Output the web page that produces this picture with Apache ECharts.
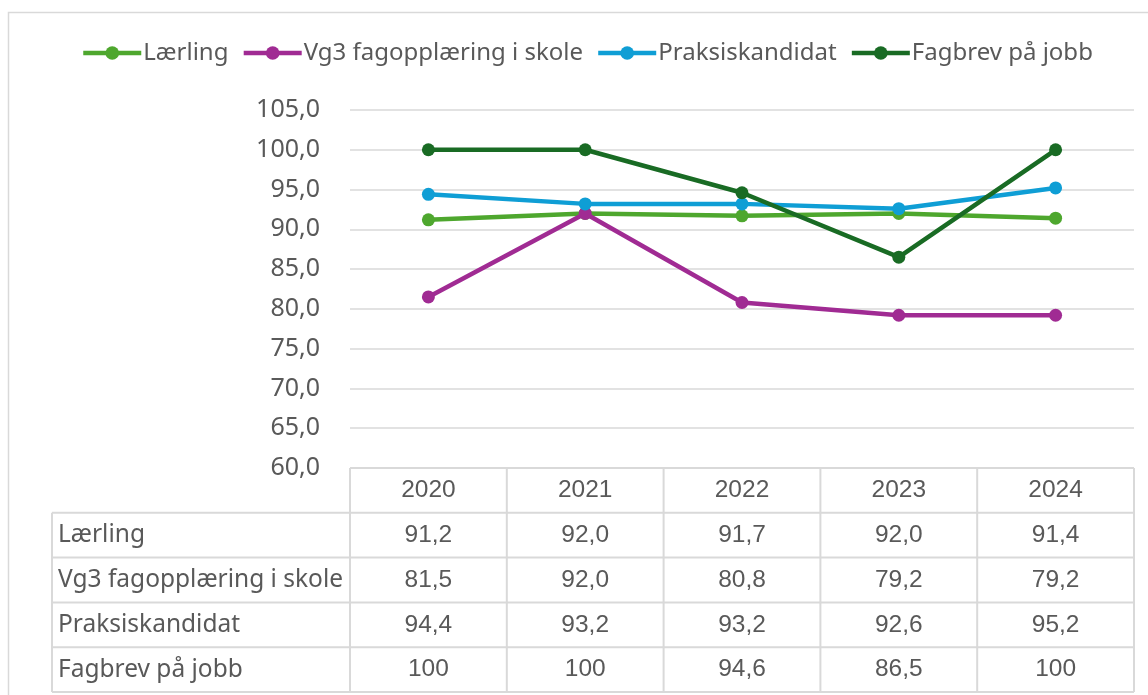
<!DOCTYPE html>
<html>
<head>
<meta charset="utf-8">
<script src="https://cdn.jsdelivr.net/npm/echarts@6/dist/echarts.min.js"></script>
<style>
html,body{margin:0;padding:0;background:#fff;}
#chart{width:1148px;height:695px;}
</style>
</head>
<body>
<div id="chart"></div>
<script>
const years = ['2020', '2021', '2022', '2023', '2024'];
const seriesNames = ['Lærling', 'Vg3 fagopplæring i skole', 'Praksiskandidat', 'Fagbrev på jobb'];
const laerling = [91.2, 92.0, 91.7, 92.0, 91.4];
const vg3 = [81.5, 92.0, 80.8, 79.2, 79.2];
const praksis = [94.4, 93.2, 93.2, 92.6, 95.2];
const fagbrev = [100, 100, 94.6, 86.5, 100];
const yMin = 60, yMax = 105, yStep = 5;
const colors = ['#4EA72E', '#A02B93', '#0F9ED5', '#196B24'];
const allData = [laerling, vg3, praksis, fagbrev];

const TEXT = '#595959';
const BORDER = '#d9d9d9';
const FONT = '"Noto Sans", sans-serif';
const NUMFONT = '"Liberation Sans", Arial, sans-serif';

function fmtAxis(v) { return v.toFixed(1).replace('.', ','); }
function fmtCell(v) { return v === 100 ? '100' : v.toFixed(1).replace('.', ','); }

const chart = echarts.init(document.getElementById('chart'), null, {renderer: 'canvas'});

const option = {
  animation: false,
  backgroundColor: '#fff',
  textStyle: {fontFamily: FONT},
  legend: {
    data: seriesNames,
    left: 76,
    top: 36,
    itemWidth: 58,
    itemHeight: 17,
    itemGap: 13,
    lineStyle: {width: 4.5},
    textStyle: {fontSize: 24, color: TEXT, fontFamily: FONT, padding: [0, 0, 0, -3]}
  },
  grid: {left: 350, right: 14, top: 110, bottom: 227, containLabel: false},
  xAxis: {
    type: 'category',
    data: years,
    boundaryGap: true,
    axisLine: {show: false},
    axisTick: {show: false},
    axisLabel: {show: false}
  },
  yAxis: {
    type: 'value',
    min: yMin, max: yMax, interval: yStep,
    axisLine: {show: false},
    axisTick: {show: false},
    axisLabel: {formatter: fmtAxis, fontSize: 25, color: TEXT, fontFamily: FONT, margin: 30},
    splitLine: {lineStyle: {color: BORDER, width: 1.5}}
  },
  series: seriesNames.map((name, i) => ({
    name: name,
    type: 'line',
    data: allData[i],
    symbol: 'circle',
    symbolSize: 13,
    color: colors[i],
    lineStyle: {width: 4.5, color: colors[i]},
    itemStyle: {color: colors[i]},
    z: 2 + i
  }))
};
chart.setOption(option);

// Build the data table beneath the plot
function buildTable() {
  const g = [];
  const top = chart.convertToPixel({yAxisIndex: 0}, yMin);
  const c0 = chart.convertToPixel({xAxisIndex: 0}, years[0]);
  const c1 = chart.convertToPixel({xAxisIndex: 0}, years[1]);
  const cw = c1 - c0;
  const xLeft = c0 - cw / 2;
  const xRight = xLeft + cw * years.length;
  const labelLeft = 52;
  const rowH = 44.8;
  const lineStyle = {stroke: BORDER, lineWidth: 2};

  // outer chart frame
  g.push({type: 'rect', shape: {x: 8.5, y: 12.5, width: 1200, height: 800}, style: {fill: 'none', stroke: BORDER, lineWidth: 1.5}, z: 0, silent: true});

  // horizontal lines
  g.push({type: 'line', shape: {x1: xLeft, y1: top, x2: xRight, y2: top}, style: lineStyle, z: 10});
  for (let r = 1; r <= seriesNames.length + 1; r++) {
    const y = top + rowH * r;
    g.push({type: 'line', shape: {x1: labelLeft, y1: y, x2: xRight, y2: y}, style: lineStyle, z: 10});
  }
  const bottom = top + rowH * (seriesNames.length + 1);
  // vertical lines
  g.push({type: 'line', shape: {x1: labelLeft, y1: top + rowH, x2: labelLeft, y2: bottom}, style: lineStyle, z: 10});
  for (let c = 0; c <= years.length; c++) {
    const x = xLeft + cw * c;
    g.push({type: 'line', shape: {x1: x, y1: top, x2: x, y2: bottom}, style: lineStyle, z: 10});
  }
  // header texts
  years.forEach((yr, c) => {
    g.push({type: 'text', x: chart.convertToPixel({xAxisIndex: 0}, yr), y: top + rowH / 2,
      style: {text: yr, fill: TEXT, font: '24.5px ' + NUMFONT, align: 'center', verticalAlign: 'middle'}, z: 11});
  });
  // rows
  seriesNames.forEach((name, r) => {
    const yc = top + rowH * (r + 1.5);
    g.push({type: 'text', x: labelLeft + 6, y: yc,
      style: {text: name, fill: TEXT, font: '24.5px ' + FONT, align: 'left', verticalAlign: 'middle'}, z: 11});
    allData[r].forEach((v, c) => {
      g.push({type: 'text', x: chart.convertToPixel({xAxisIndex: 0}, years[c]), y: yc,
        style: {text: fmtCell(v), fill: TEXT, font: '24.5px ' + NUMFONT, align: 'center', verticalAlign: 'middle'}, z: 11});
    });
  });
  chart.setOption({graphic: {elements: g}});
}
buildTable();
</script>
</body>
</html>
